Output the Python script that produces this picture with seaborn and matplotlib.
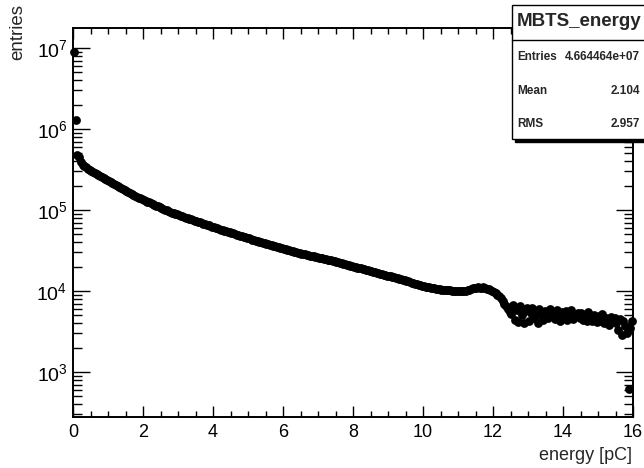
import numpy as np
import pandas as pd
import matplotlib
matplotlib.use("Agg")
import matplotlib.pyplot as plt
import seaborn as sns
from matplotlib.patches import Rectangle
from matplotlib.lines import Line2D
from matplotlib.ticker import LogLocator, MultipleLocator, LogFormatterSciNotation

# ---------------- data ----------------
bin_width = 0.05
n_bins = 320
# entries per bin, in thousands
entries_k = [
    9000, 1300, 480, 450, 390, 360, 345, 335, 325, 315,
    305, 297, 288, 280, 272, 264, 256, 248, 240, 233,
    226, 220, 214, 208, 202, 196, 191, 186, 181, 176,
    171, 166, 162, 158, 154, 150, 146, 142, 139, 136,
    133, 130, 127, 124, 121, 118, 115.5, 113, 110.5, 108,
    105.5, 103, 101, 99, 97, 95, 93, 91, 89.5, 88,
    86.5, 85, 83.5, 82, 80.5, 79, 77.7, 76.4, 75.1, 73.8,
    72.5, 71.3, 70.1, 68.9, 67.7, 66.6, 65.5, 64.4, 63.3, 62.3,
    61.3, 60.3, 59.3, 58.3, 57.4, 56.5, 55.6, 54.7, 53.8, 52.9,
    52.1, 51.3, 50.5, 49.7, 48.9, 48.1, 47.3, 46.6, 45.9, 45.2,
    44.5, 43.8, 43.1, 42.4, 41.8, 41.2, 40.6, 40.0, 39.4, 38.8,
    38.2, 37.6, 37.0, 36.5, 36.0, 35.5, 35.0, 34.5, 34.0, 33.5,
    33.0, 32.6, 32.2, 31.8, 31.4, 31.0, 30.6, 30.2, 29.8, 29.4,
    29.0, 28.6, 28.3, 28.0, 27.7, 27.4, 27.1, 26.8, 26.5, 26.2,
    25.9, 25.6, 25.3, 25.0, 24.7, 24.4, 24.1, 23.8, 23.5, 23.2,
    22.9, 22.6, 22.3, 22.0, 21.7, 21.4, 21.1, 20.8, 20.5, 20.2,
    19.95, 19.7, 19.45, 19.2, 18.95, 18.7, 18.45, 18.2, 17.95, 17.7,
    17.45, 17.2, 16.95, 16.7, 16.5, 16.3, 16.1, 15.9, 15.7, 15.5,
    15.3, 15.1, 14.9, 14.7, 14.5, 14.3, 14.1, 13.9, 13.7, 13.5,
    13.3, 13.1, 12.9, 12.7, 12.5, 12.3, 12.1, 11.95, 11.8, 11.65,
    11.5, 11.35, 11.2, 11.05, 10.95, 10.85, 10.75, 10.65, 10.55, 10.45,
    10.4, 10.35, 10.3, 10.25, 10.2, 10.15, 10.1, 10.05, 10.0, 9.95,
    9.9, 9.9, 9.95, 10.0, 10.1, 10.2, 10.4, 10.6, 10.8, 10.9,
    11.0, 11.1, 11.0, 10.9, 11.1, 10.9, 10.7, 10.5, 10.4, 10.1,
    9.8, 9.4, 9.0, 8.6, 8.2, 7.6, 7.0, 6.6, 6.0, 5.5,
    5.2, 6.8, 4.4, 5.8, 4.1, 6.5, 5.0, 4.0, 5.6, 6.1,
    4.3, 5.3, 6.2, 4.7, 5.5, 4.0, 6.0, 5.1, 4.4, 5.7,
    5.4, 4.6, 6.0, 4.9, 5.3, 4.5, 5.8, 5.0, 4.2, 5.5,
    4.8, 5.6, 4.4, 5.2, 5.9, 4.5, 5.1, 4.9, 5.4, 4.6,
    5.3, 4.4, 5.0, 4.2, 5.5, 4.8, 4.3, 5.1, 4.5, 4.1,
    4.9, 4.3, 5.2, 4.0, 4.7, 4.4, 3.8, 4.8, 4.2, 4.6,
    4.0, 3.3, 4.5, 2.9, 4.2, 3.7, 3.0, 0.62, 3.5, 4.2,
]
assert len(entries_k) == n_bins

stats_title = "MBTS_energy"
stats_labels = ["Entries", "Mean", "RMS"]
stats_values = ["4.664464e+07", "2.104", "2.957"]
x_label = "energy [pC]"
y_label = "entries"

centers = (np.arange(n_bins) + 0.5) * bin_width
df = pd.DataFrame({"energy": centers, "entries": np.array(entries_k) * 1000.0})

# ---------------- figure ----------------
sns.set_style("ticks")
plt.rcParams["font.family"] = ["Liberation Sans", "DejaVu Sans"]
plt.rcParams["mathtext.fontset"] = "custom"
plt.rcParams["mathtext.rm"] = "Liberation Sans"
plt.rcParams["mathtext.it"] = "Liberation Sans"

W, H = 644, 468
fig = plt.figure(figsize=(W / 100, H / 100), dpi=100)
ax = fig.add_axes([73 / W, 1 - 417 / H, 560 / W, 389 / H])

sns.scatterplot(data=df, x="energy", y="entries", ax=ax, color="black",
                s=40, linewidth=0, marker="o", legend=False, clip_on=False, zorder=3)

ax.set_yscale("log")
ax.set_xlim(0, 16)
ax.set_ylim(10 ** 2.444, 10 ** 7.247)

ax.xaxis.set_major_locator(MultipleLocator(2))
ax.xaxis.set_minor_locator(MultipleLocator(0.5))
ax.yaxis.set_major_locator(LogLocator(base=10, numticks=20))
ax.yaxis.set_minor_locator(LogLocator(base=10, subs=np.arange(2, 10), numticks=20))
ax.yaxis.set_major_formatter(LogFormatterSciNotation())

for s in ax.spines.values():
    s.set_linewidth(1.4)
    s.set_color("black")

ax.tick_params(axis="both", which="both", direction="in", top=True, right=True,
               colors="black", width=1.0)
ax.tick_params(axis="x", which="major", length=8, labelsize=13, pad=5)
ax.tick_params(axis="x", which="minor", length=4)
ax.tick_params(axis="y", which="major", length=12.5, labelsize=14, pad=4)
ax.tick_params(axis="y", which="minor", length=6.5)

ax.set_xlabel("")
ax.set_ylabel("")
fig.text(632 / W, 1 - 455 / H, x_label, ha="right", va="center", fontsize=13)
fig.text(18 / W, 1 - 4 / H, y_label, ha="center", va="top", rotation=90, fontsize=13.5)

# ---------------- stats box ----------------
bx0, bx1 = 512, 660
by0, by1 = 5, 139  # top and bottom in pixels from top
shadow = Rectangle(((bx0 + 3) / W, 1 - (by1 + 3) / H), (bx1 - bx0) / W, (by1 - by0) / H,
                   transform=fig.transFigure, facecolor="black", edgecolor="black",
                   zorder=10)
box = Rectangle((bx0 / W, 1 - by1 / H), (bx1 - bx0) / W, (by1 - by0) / H,
                transform=fig.transFigure, facecolor="white", edgecolor="black",
                linewidth=1.0, zorder=11)
fig.patches.extend([shadow, box])
fig.lines.append(Line2D([bx0 / W, 1.0], [1 - 40 / H, 1 - 40 / H], transform=fig.transFigure,
                        color="black", linewidth=1.0, zorder=12))
fig.text(517 / W, 1 - 22 / H, stats_title, ha="left", va="center", fontsize=13.5,
         fontweight="bold", zorder=13)
row_y = [57, 91, 124]
for lab, val, yy in zip(stats_labels, stats_values, row_y):
    fig.text(517 / W, 1 - yy / H, lab, ha="left", va="center", fontsize=8.5,
             fontweight="bold", zorder=13)
    fig.text(640 / W, 1 - yy / H, val, ha="right", va="center", fontsize=8.5,
             fontweight="bold", zorder=13)

fig.savefig("out.png", dpi=100)
